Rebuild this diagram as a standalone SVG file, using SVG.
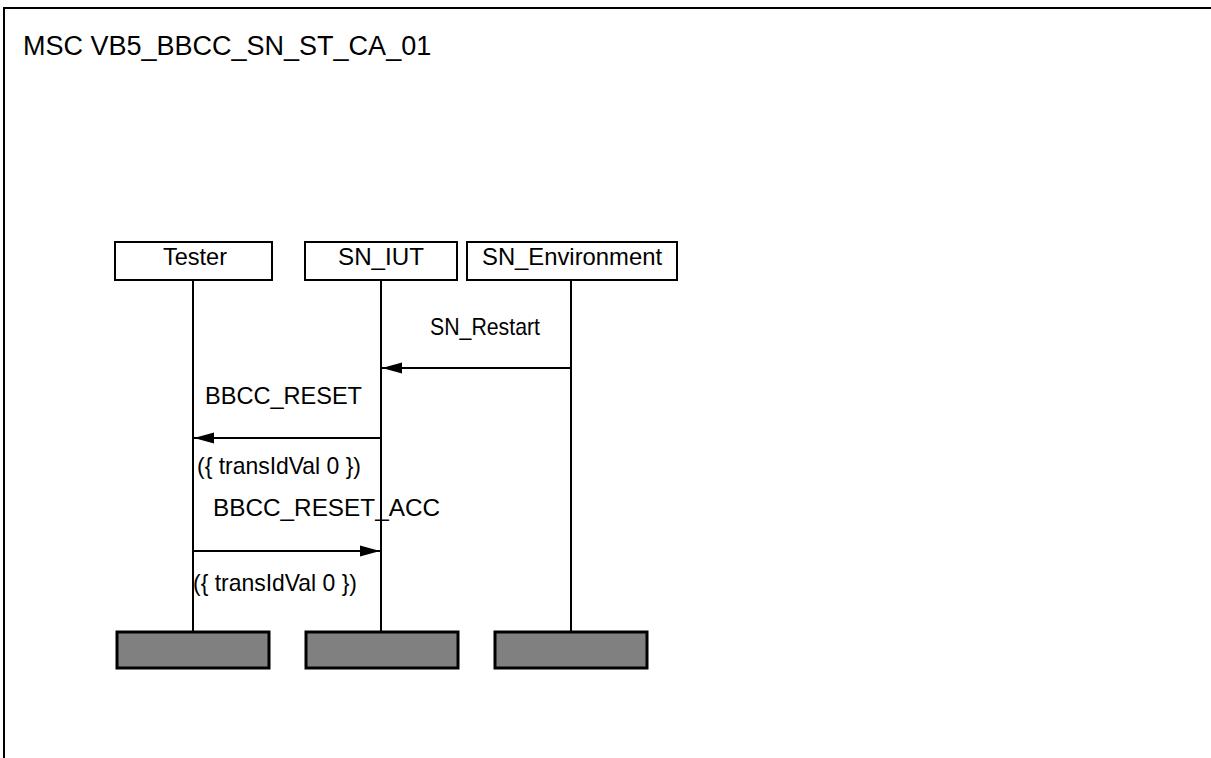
<svg xmlns="http://www.w3.org/2000/svg" width="1211" height="758" viewBox="0 0 1211 758">
<style>
text{font-family:"Liberation Sans",Arial,sans-serif;fill:#000}
.t{font-size:27px}
.l{font-size:24px}
.m{text-anchor:middle}
.head{fill:#fff;stroke:#000;stroke-width:2}
.end{fill:#808080;stroke:#000;stroke-width:3}
.life{stroke:#000;stroke-width:2}
.msg{stroke:#000;stroke-width:2;fill:none;marker-end:url(#ah)}
</style>
<defs>
<marker id="ah" markerUnits="userSpaceOnUse" markerWidth="22" markerHeight="14" refX="20" refY="7" orient="auto">
<path d="M0,1.5 L20,7 L0,12.5 Z" fill="#000"/>
</marker>
</defs>
<rect x="4" y="8" width="1230" height="800" fill="#fff" stroke="#000" stroke-width="2"/>
<text class="t" x="23" y="55">MSC VB5_BBCC_SN_ST_CA_01</text>
<g id="tester">
<rect class="head" x="115" y="242" width="157" height="38"/>
<text class="l m" x="195" y="265" textLength="64" lengthAdjust="spacingAndGlyphs">Tester</text>
<line class="life" x1="193" y1="280" x2="193" y2="632"/>
<rect class="end" x="117" y="632" width="152" height="36"/>
</g>
<g id="sn_iut">
<rect class="head" x="305" y="242" width="152" height="38"/>
<text class="l m" x="381" y="265" textLength="86" lengthAdjust="spacingAndGlyphs">SN_IUT</text>
<line class="life" x1="381" y1="280" x2="381" y2="632"/>
<rect class="end" x="306" y="632" width="152" height="36"/>
</g>
<g id="sn_env">
<rect class="head" x="467" y="242" width="210" height="38"/>
<text class="l m" x="572" y="265" textLength="180" lengthAdjust="spacingAndGlyphs">SN_Environment</text>
<line class="life" x1="571" y1="280" x2="571" y2="632"/>
<rect class="end" x="495" y="632" width="152" height="36"/>
</g>
<g id="connectors">
<line class="msg" x1="571" y1="368" x2="382" y2="368"/>
<text class="l" x="430" y="335" textLength="110" lengthAdjust="spacingAndGlyphs">SN_Restart</text>
<line class="msg" x1="381" y1="438" x2="194" y2="438"/>
<text class="l" x="205" y="404" textLength="157" lengthAdjust="spacingAndGlyphs">BBCC_RESET</text>
<text class="l" x="197" y="474" textLength="164" lengthAdjust="spacingAndGlyphs">({ transIdVal 0 })</text>
<line class="msg" x1="193" y1="551" x2="380" y2="551"/>
<text class="l" x="213" y="516" textLength="227" lengthAdjust="spacingAndGlyphs">BBCC_RESET_ACC</text>
<text class="l" x="193" y="591" textLength="164" lengthAdjust="spacingAndGlyphs">({ transIdVal 0 })</text>
</g>
</svg>
